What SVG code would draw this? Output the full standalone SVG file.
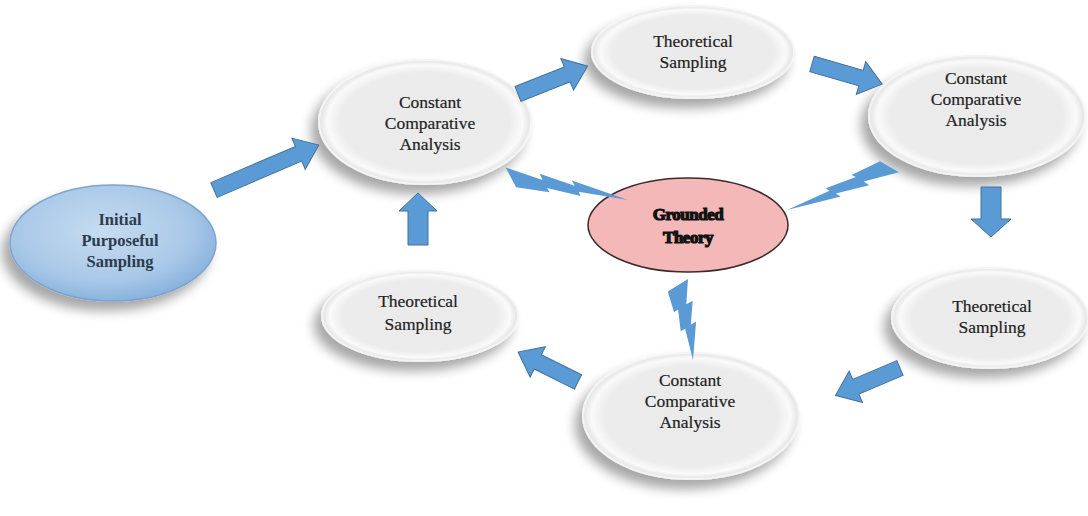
<svg xmlns="http://www.w3.org/2000/svg" width="1088" height="516" viewBox="0 0 1088 516">
  <defs>
    <radialGradient id="pearl" cx="50%" cy="50%" r="50%">
      <stop offset="0%" stop-color="#eaeaea"/>
      <stop offset="80%" stop-color="#ececec"/>
      <stop offset="92%" stop-color="#fafafa"/>
      <stop offset="100%" stop-color="#e2e2e2"/>
    </radialGradient>
    <radialGradient id="sky" cx="45%" cy="40%" r="60%">
      <stop offset="0%" stop-color="#c6dcf0"/>
      <stop offset="70%" stop-color="#a9c8e8"/>
      <stop offset="100%" stop-color="#8ab3dd"/>
    </radialGradient>
    <filter id="shadow" x="-30%" y="-30%" width="160%" height="170%">
      <feGaussianBlur in="SourceAlpha" stdDeviation="6"/>
      <feOffset dx="-7" dy="9" result="b"/>
      <feComponentTransfer><feFuncA type="linear" slope="0.35"/></feComponentTransfer>
      <feMerge><feMergeNode/><feMergeNode in="SourceGraphic"/></feMerge>
    </filter>
    <!-- lightning bolt in a 21600 unit box, wide end at the origin, tip at (21600,21600) -->
    <path id="bolt" d="M8458,0 L0,3923 L7564,8416 L4993,9720 L12197,13904 L9987,14934 L21600,21600 L14768,12911 L16558,12016 L11030,6840 L12831,6120 Z"/>
  </defs>
  <style>
    .step ellipse { fill: url(#pearl); stroke: #f4f4f4; stroke-width: 2; filter: url(#shadow); }
    .lbl { font-family: "Liberation Serif", "Times New Roman", serif; font-size: 17.5px; fill: #222; stroke: #222; stroke-width: 0.2; text-anchor: middle; }
    .arrow { fill: #5b9bd5; stroke: #41719c; stroke-width: 1; }
    .spark { fill: #5b9bd5; stroke: #41719c; stroke-width: 0.8; }
  </style>
  <rect width="1088" height="516" fill="#ffffff"/>

  <g id="initial-sampling">
    <ellipse cx="113" cy="243" rx="103" ry="58" fill="url(#sky)" stroke="#7ea4cc" stroke-width="1.5" filter="url(#shadow)"/>
    <text class="lbl" font-family="Liberation Serif, serif" style="fill:#2e3b4c;stroke:none;font-weight:bold;font-size:16.5px">
      <tspan x="120" y="225">Initial</tspan><tspan x="120" y="246">Purposeful</tspan><tspan x="120" y="267">Sampling</tspan>
    </text>
  </g>

  <g id="analysis-1" class="step">
    <ellipse cx="425" cy="122" rx="106" ry="62"/>
    <text class="lbl" font-family="Liberation Serif, serif"><tspan x="430" y="108">Constant</tspan><tspan x="430" y="129">Comparative</tspan><tspan x="430" y="150">Analysis</tspan></text>
  </g>

  <g id="sampling-1" class="step">
    <ellipse cx="693" cy="52" rx="101" ry="46"/>
    <text class="lbl" font-family="Liberation Serif, serif"><tspan x="693" y="47">Theoretical</tspan><tspan x="693" y="68">Sampling</tspan></text>
  </g>

  <g id="analysis-2" class="step">
    <ellipse cx="977" cy="116" rx="108" ry="60"/>
    <text class="lbl" font-family="Liberation Serif, serif"><tspan x="976" y="84">Constant</tspan><tspan x="976" y="105">Comparative</tspan><tspan x="976" y="126">Analysis</tspan></text>
  </g>

  <g id="sampling-2" class="step">
    <ellipse cx="990" cy="318" rx="98" ry="50"/>
    <text class="lbl" font-family="Liberation Serif, serif"><tspan x="992" y="312">Theoretical</tspan><tspan x="992" y="333">Sampling</tspan></text>
  </g>

  <g id="analysis-3" class="step">
    <ellipse cx="691" cy="416" rx="108" ry="63"/>
    <text class="lbl" font-family="Liberation Serif, serif"><tspan x="690" y="386">Constant</tspan><tspan x="690" y="407">Comparative</tspan><tspan x="690" y="428">Analysis</tspan></text>
  </g>

  <g id="sampling-3" class="step">
    <ellipse cx="420" cy="316" rx="98" ry="45"/>
    <text class="lbl" font-family="Liberation Serif, serif"><tspan x="418" y="307">Theoretical</tspan><tspan x="418" y="330">Sampling</tspan></text>
  </g>

  <g id="grounded-theory">
    <ellipse cx="688" cy="225" rx="100" ry="47" fill="#f4b8b8" stroke="#3a2a2a" stroke-width="1.5"/>
    <text x="688" text-anchor="middle" style="font-family:'Liberation Serif','Times New Roman',serif;font-size:17px;font-weight:bold;fill:#111;stroke:#111;stroke-width:1.2;letter-spacing:-0.5px">
      <tspan x="688" y="220">Grounded</tspan><tspan x="688" y="243">Theory</tspan>
    </text>
  </g>

  <g id="connectors">
    <!-- process arrows -->
    <polygon class="arrow" transform="translate(214,190) rotate(-23.2)" points="0,-8 92,-8 92,-17 114,0 92,17 92,8 0,8"/>
    <polygon class="arrow" transform="translate(518,94) rotate(-21.8)" points="0,-8 53,-8 53,-17 75,0 53,17 53,8 0,8"/>
    <polygon class="arrow" transform="translate(812,64) rotate(16)" points="0,-8 51,-8 51,-17 73,0 51,17 51,8 0,8"/>
    <polygon class="arrow" transform="translate(991,187) rotate(90)" points="0,-10 32,-10 32,-20 50,0 32,20 32,10 0,10"/>
    <polygon class="arrow" transform="translate(900,368) rotate(157)" points="0,-8 48,-8 48,-17 70,0 48,17 48,8 0,8"/>
    <polygon class="arrow" transform="translate(578,382) rotate(206.6)" points="0,-8 45,-8 45,-17 67,0 45,17 45,8 0,8"/>
    <polygon class="arrow" transform="translate(418,245) rotate(-90)" points="0,-10 34,-10 34,-19 52,0 34,19 34,10 0,10"/>
    <!-- lightning links to the theory -->
    <use href="#bolt" class="spark" vector-effect="non-scaling-stroke" transform="matrix(61.5,44.3,74.5,-14.3,492,170) scale(0.0000463)"/>
    <use href="#bolt" class="spark" vector-effect="non-scaling-stroke" transform="matrix(-71.4,-4.5,-49.6,51.5,908,163) scale(0.0000463)"/>
    <use href="#bolt" class="spark" vector-effect="non-scaling-stroke" transform="matrix(-31.1,49.5,44.1,38.5,680,272) scale(0.0000463)"/>
  </g>
</svg>
